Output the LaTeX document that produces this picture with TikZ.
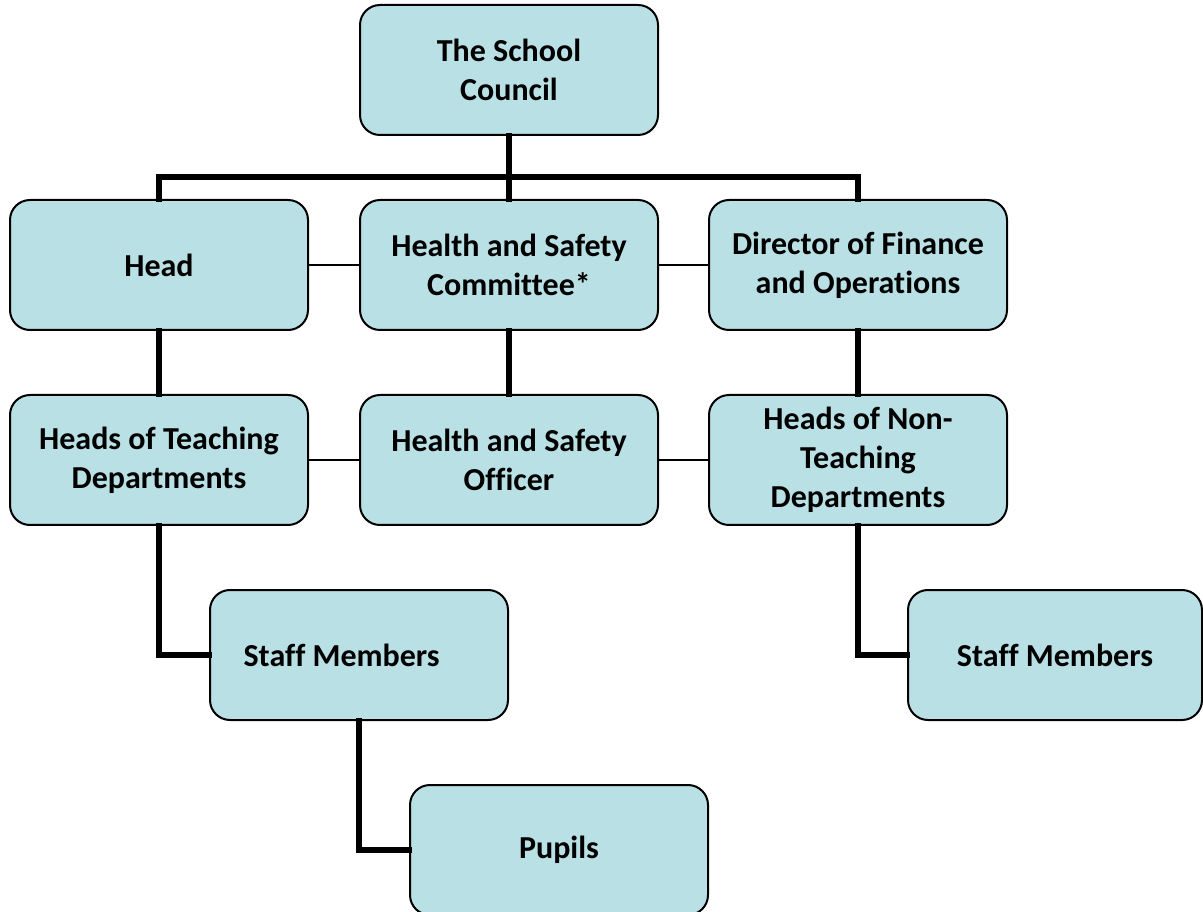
\documentclass[tikz,border=0pt]{standalone}
\usepackage{fontspec}
\setmainfont{Carlito}[Ligatures={NoCommon,NoRare}]
\definecolor{boxfill}{RGB}{185,224,228}
\begin{document}
\begin{tikzpicture}[x=0.75pt,y=-0.75pt,
  orgbox/.style={draw=black, line width=1.5pt, fill=boxfill, rounded corners=15pt,
    minimum width=223.5pt, minimum height=97.5pt, align=center,
    font=\fontsize{24}{29.3}\selectfont\bfseries, inner sep=0pt},
  thickline/.style={line width=3.8pt, line cap=rect},
  thinline/.style={line width=1.1pt}]
\useasboundingbox (0,0) rectangle (1203,912);
\node[orgbox] (council) at (509,70) {The School\\Council};
\node[orgbox] (head) at (159,265) {Head};
\node[orgbox] (hsc) at (509,265) {Health and Safety\\Committee*};
\node[orgbox] (dir) at (858,265) {Director of Finance\\and Operations};
\node[orgbox] (hot) at (159,460) {Heads of Teaching\\Departments};
\node[orgbox] (hso) at (509,460) {Health and Safety\\Officer};
\node[orgbox] (hont) at (858,460) {Heads of Non-\\Teaching\\Departments};
\node[orgbox] (staffL) at (359,655) {\hspace*{-26pt}Staff Members};
\node[orgbox, minimum width=220.5pt] (staffR) at (1055,655) {Staff Members};
\node[orgbox] (pupils) at (559,850) {Pupils};
\coordinate (bar) at (509,177);
\draw[thickline] (council.south) -- (hsc.north);
\draw[thickline] (head.north) |- (bar) -| (dir.north);
\draw[thinline] (head.east) -- (hsc.west);
\draw[thinline] (hsc.east) -- (dir.west);
\draw[thickline] (head.south) -- (hot.north);
\draw[thickline] (hsc.south) -- (hso.north);
\draw[thickline] (dir.south) -- (hont.north);
\draw[thinline] (hot.east) -- (hso.west);
\draw[thinline] (hso.east) -- (hont.west);
\draw[thickline] (hot.south) |- (staffL.west);
\draw[thickline] (staffL.south) |- (pupils.west);
\draw[thickline] (hont.south) |- (staffR.west);
\end{tikzpicture}
\end{document}
